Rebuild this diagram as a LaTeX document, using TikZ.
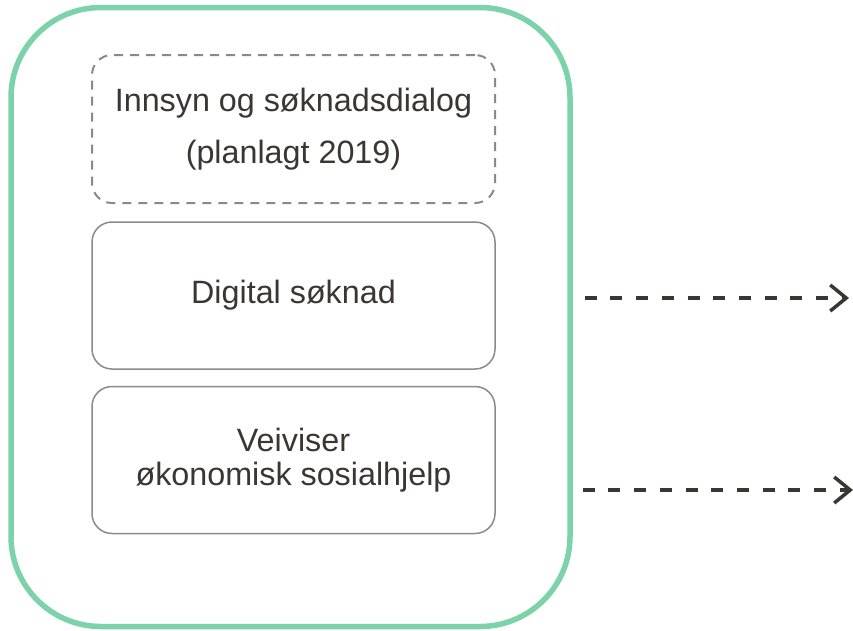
\documentclass[tikz,border=0pt]{standalone}
\usepackage{fontspec}
\setmainfont{Liberation Sans}
\usepackage{tikz}
\usetikzlibrary{arrows.meta}
\usetikzlibrary{calc}
\definecolor{mintgreen}{HTML}{7DD3A9}
\definecolor{boxgray}{HTML}{8A8A8A}
\definecolor{darktext}{HTML}{3A3632}

\begin{document}
\begin{tikzpicture}[
    x=1pt, y=-1pt,
    outer box/.style={draw=mintgreen, line width=5.5pt, rounded corners=90pt,
        minimum width=559pt, minimum height=619pt, inner sep=0pt},
    plan box/.style={draw=boxgray, line width=2pt, dash pattern=on 9pt off 7pt,
        rounded corners=20pt, minimum width=403pt, minimum height=148pt,
        inner sep=0pt, align=center, text=darktext},
    solid box/.style={draw=boxgray, line width=1.5pt, rounded corners=20pt,
        minimum width=403pt, minimum height=147pt, inner sep=0pt,
        align=center, text=darktext},
    out arrow/.style={draw=darktext, line width=3.5pt, dash pattern=on 12pt off 13.7pt,
        -{Straight Barb[length=16pt, width=26pt, line width=3.5pt]}}
    ]

    \useasboundingbox (0,0) rectangle (853,630);

    % frame
    \node[outer box] (frame) at (290.5,317) {};
    % boxes
    \node[plan box, font=\fontsize{32.3}{52}\selectfont] (innsyn) at (293.5,129)
        {Innsyn og søknadsdialog\\(planlagt 2019)};
    \node[solid box, font=\fontsize{32.3}{36}\selectfont] (digital) at (293.5,295.5)
        {Digital søknad};
    \node[solid box, font=\fontsize{32.3}{34}\selectfont] (veiviser) at (293.5,460)
        {Veiviser\\økonomisk sosialhjelp};
    % arrows out
    \coordinate (digital out) at ($(frame.east |- digital.center)+(12,2.5)$);
    \coordinate (digital end) at (849,298);
    \coordinate (veiviser out) at ($(frame.east |- veiviser.center)+(10,30)$);
    \coordinate (veiviser end) at (853,490);
    \draw[out arrow] (digital out) -- (digital end);
    \draw[out arrow] (veiviser out) -- (veiviser end);
\end{tikzpicture}
\end{document}
